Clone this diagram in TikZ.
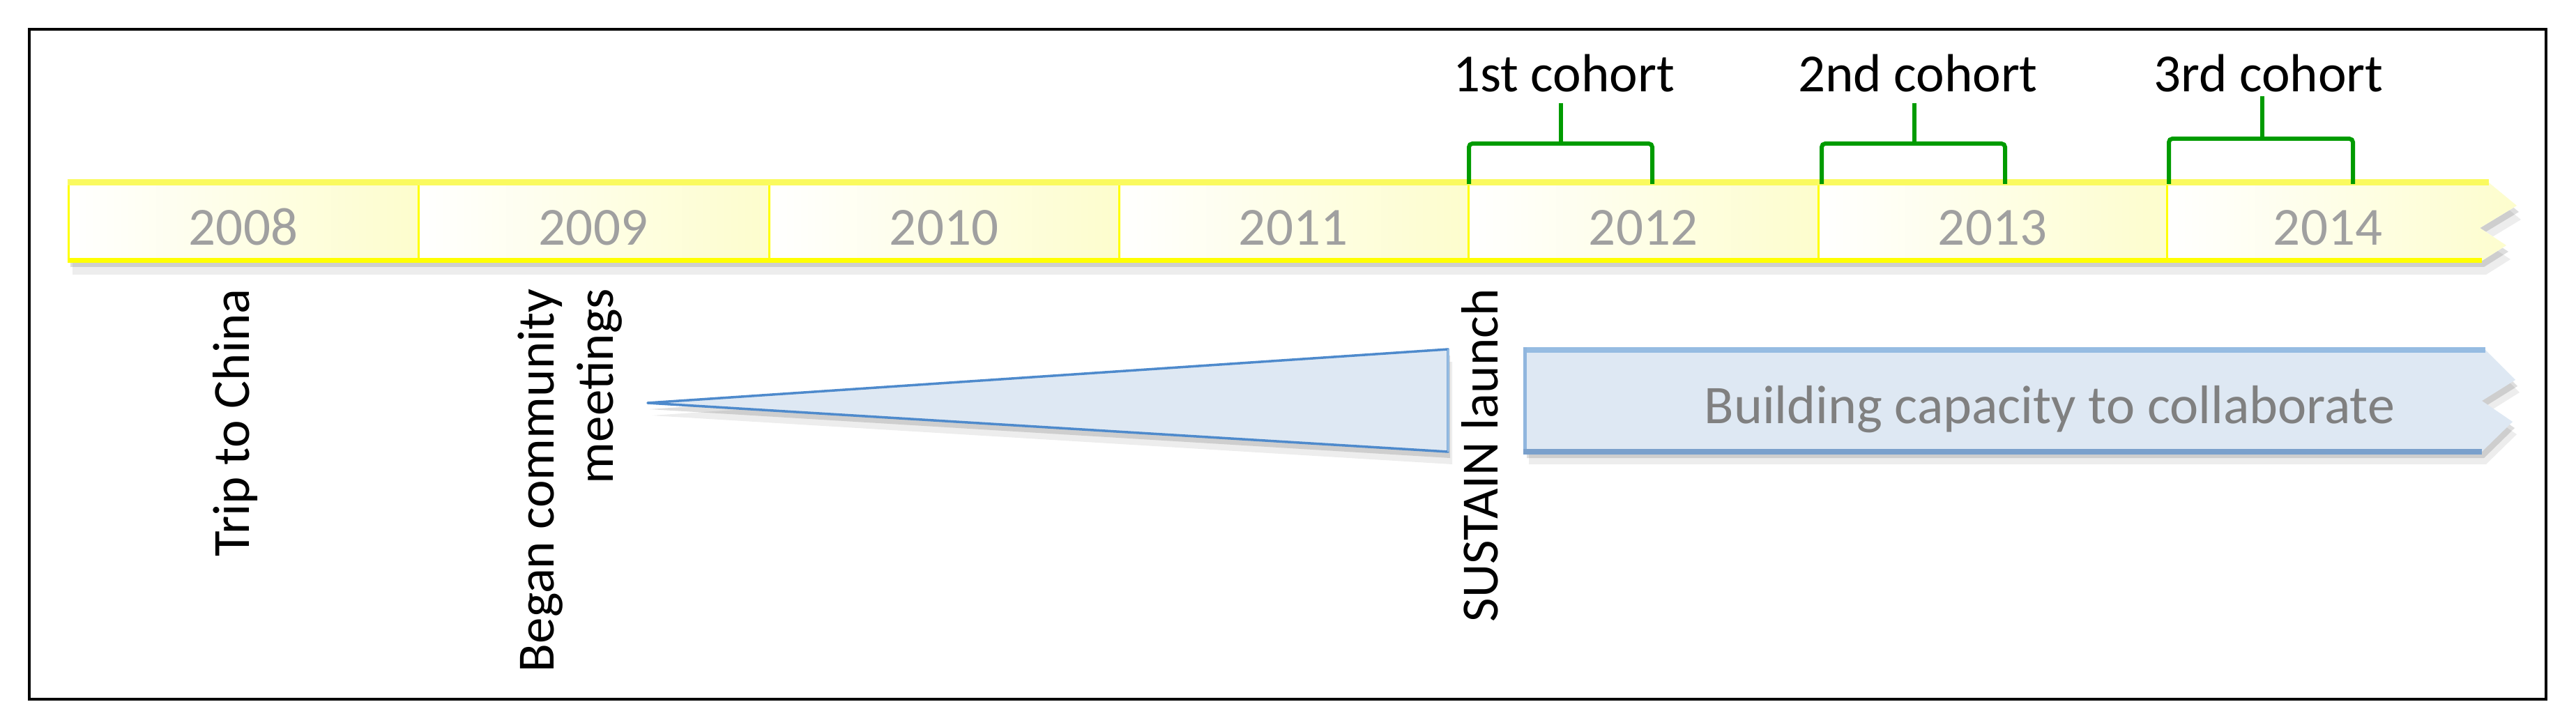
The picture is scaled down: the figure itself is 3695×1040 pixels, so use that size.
\documentclass[tikz,border=0pt]{standalone}
\usepackage{fontspec}
\setmainfont{Carlito}
\definecolor{yel}{RGB}{255,255,0}
\definecolor{yeltop}{RGB}{250,250,95}
\definecolor{yelfill}{RGB}{253,253,205}
\definecolor{yeargray}{RGB}{160,160,160}
\definecolor{bfill}{RGB}{222,232,243}
\definecolor{bedgetop}{RGB}{150,188,226}
\definecolor{bedgebot}{RGB}{122,160,204}
\definecolor{tedge}{RGB}{78,138,204}
\definecolor{grn}{RGB}{0,155,0}
\definecolor{txtgray}{RGB}{128,128,128}
\tikzset{
  yearlbl/.style={text=yeargray, anchor=base, inner sep=0pt, font=\fontsize{77}{90}\selectfont},
  cohortlbl/.style={text=black, anchor=base, inner sep=0pt, font=\fontsize{77}{90}\selectfont},
  vlbl/.style={text=black, rotate=90, anchor=base east, inner sep=0pt, font=\fontsize{75}{88}\selectfont},
  brace/.style={draw=grn, line width=6pt, rounded corners=5pt},
  stem/.style={draw=grn, line width=6pt},
  seg/.style={left color=white, right color=yelfill},
  divider/.style={draw=yel, line width=3pt},
  shade1/.style={fill=black, opacity=0.13},
  shade2/.style={fill=black, opacity=0.07}
}
\begin{document}
\begin{tikzpicture}[x=1pt,y=-1pt]
\useasboundingbox (0,0) rectangle (3695,1040);
\fill[white] (0,0) rectangle (3695,1040);
% frame
\draw[black, line width=3.5pt] (42,42) rectangle (3652,1003);

% ---- yellow timeline bar ----
\def\barpath{(98,262) -- (3570,262) -- (3610,295) -- (3557,327) -- (3595,352) -- (3560,374) -- (98,374) -- cycle}
\fill[shade1, shift={(3,9)}] \barpath;
\fill[shade2, shift={(6,20)}] \barpath;
\fill[white] \barpath;
\foreach \a/\b in {98/600,600/1103,1103/1605,1605/2106,2106/2608,2608/3108}{
  \shade[seg] (\a,262) rectangle (\b,374);
}
\shade[seg] (3108,262) -- (3570,262) -- (3610,295) -- (3557,327) -- (3595,352) -- (3560,374) -- (3108,374) -- cycle;
\foreach \x in {98,600,1103,1605,2106,2608,3108}{
  \draw[divider] (\x,262) -- (\x,374);
}
\draw[yeltop, line width=9pt] (96.5,262) -- (3570,262);
\draw[yel, line width=7pt] (96.5,374) -- (3560,374);

\node[yearlbl] (y2008) at (349,352) {2008};
\node[yearlbl] (y2009) at (851,352) {2009};
\node[yearlbl] (y2010) at (1354,352) {2010};
\node[yearlbl] (y2011) at (1855,352) {2011};
\node[yearlbl] (y2012) at (2357,352) {2012};
\node[yearlbl] (y2013) at (2858,352) {2013};
\node[yearlbl] (y2014) at (3339,352) {2014};

% ---- cohort braces ----
\draw[brace] (2107,264) -- (2107,206) -- (2370,206) -- (2370,264);
\draw[stem] (2239,206) -- (2239,148);
\draw[brace] (2613,264) -- (2613,206) -- (2876,206) -- (2876,264);
\draw[stem] (2746,206) -- (2746,148);
\draw[brace] (3111,264) -- (3111,199) -- (3375,199) -- (3375,264);
\draw[stem] (3245,199) -- (3245,138);

\node[cohortlbl] (c1) at (2243,132) {1st cohort};
\node[cohortlbl] (c2) at (2751,132) {2nd cohort};
\node[cohortlbl] (c3) at (3254,132) {3rd cohort};

% ---- wedge ----
\def\wedgepath{(929,578) -- (2077,501) -- (2077,648) -- cycle}
\fill[shade1, shift={(3,9)}] \wedgepath;
\fill[shade2, shift={(6,18)}] \wedgepath;
\filldraw[fill=bfill, draw=tedge, line width=3.5pt, line join=round] \wedgepath;
\draw[bedgetop, line width=3pt] (2077,501) -- (2077,648);

% ---- blue arrow band ----
\def\bandpath{(2187,502) -- (3565,502) -- (3608,545) -- (3560,575) -- (3604,605) -- (3560,648) -- (2187,648) -- cycle}
\fill[shade1, shift={(3,9)}] \bandpath;
\fill[shade2, shift={(6,18)}] \bandpath;
\fill[bfill] \bandpath;
\draw[bedgetop, line width=8pt] (3565,502) -- (2187,502);
\draw[bedgetop!80!bedgebot, line width=5pt] (2187,498) -- (2187,652);
\draw[bedgebot, line width=8pt] (2185,648) -- (3560,648);
\node[text=txtgray, anchor=base, inner sep=0pt, font=\fontsize{78}{90}\selectfont] (build) at (2940,607) {Building capacity to collaborate};

% ---- vertical labels ----
\node[vlbl] (trip) at (357,414) {Trip to China};
\node[vlbl] (began1) at (794,414) {Began community};
\node[vlbl] (began2) at (879,414) {meetings};
\node[vlbl] (sustain) at (2148,414) {SUSTAIN launch};
\end{tikzpicture}
\end{document}
